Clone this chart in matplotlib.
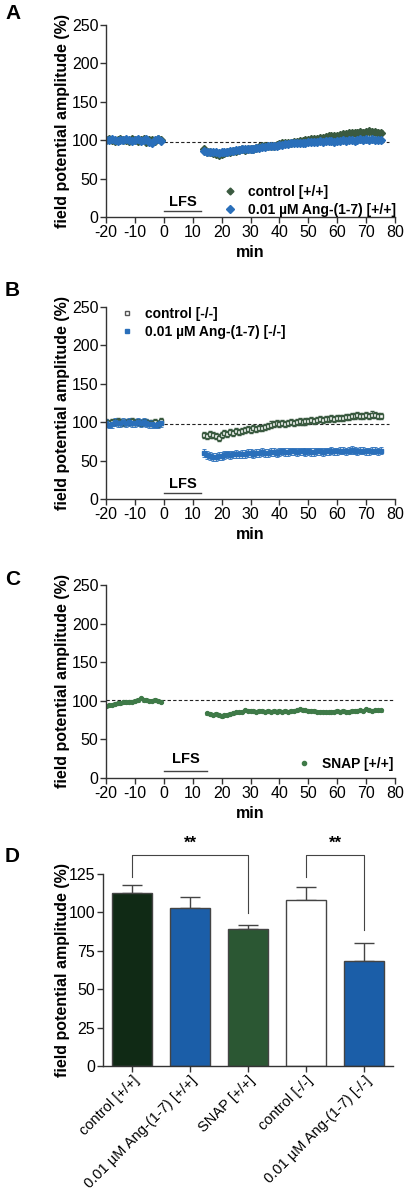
import numpy as np
import matplotlib
matplotlib.use("Agg")
import matplotlib.pyplot as plt
from matplotlib.lines import Line2D

plt.rcParams['font.family'] = ['Liberation Sans', 'DejaVu Sans']
plt.rcParams['axes.unicode_minus'] = False

# time axis (min): baseline and after LFS
t_base = list(range(-20, 0))
t_post = list(range(14, 76))
t_post_c = list(range(15, 76))

# panel A
a_ctrl_base = [100, 101, 100, 99, 100, 101, 100, 100, 99, 101, 100, 99, 100, 101, 98, 100, 100, 99, 101, 100]
a_ang_base = [100, 100, 101, 100, 99, 100, 100, 101, 100, 99, 100, 101, 99, 100, 102, 98, 97, 100, 101, 99]
a_ctrl_post = [88, 85, 84, 83, 82, 81, 82, 83, 84, 85, 86, 86, 87, 88, 87, 88, 88, 89, 90, 91,
               92, 93, 93, 92, 93, 94, 95, 96, 96, 97, 97, 98, 98, 99, 99, 100, 100, 101, 101, 102,
               103, 103, 104, 105, 105, 106, 106, 107, 108, 108, 109, 109, 110, 110, 111, 110, 111, 112, 111, 111,
               110, 110]
a_ang_post = [86, 85, 84, 84, 84, 83, 84, 85, 85, 86, 86, 87, 87, 88, 88, 89, 89, 89, 90, 90,
              91, 91, 92, 92, 93, 93, 94, 94, 95, 95, 96, 96, 96, 97, 97, 97, 98, 98, 98, 98,
              99, 98, 99, 99, 99, 98, 99, 99, 100, 99, 100, 100, 99, 100, 101, 100, 101, 100, 101, 100,
              100, 100]
a_sem = [3, 3]

# panel B
b_ctrl_base = [100, 99, 100, 100, 101, 100, 99, 100, 100, 101, 100, 100, 99, 100, 100, 99, 99, 100, 98, 101]
b_ang_base = [99, 97, 98, 100, 99, 99, 100, 99, 100, 99, 99, 100, 99, 100, 99, 98, 98, 97, 98, 99]
b_ctrl_post = [83, 82, 84, 83, 82, 80, 83, 86, 85, 87, 86, 88, 87, 89, 90, 91, 90, 92, 91, 93,
               92, 94, 95, 97, 98, 99, 98, 99, 98, 99, 100, 99, 100, 101, 100, 101, 102, 103, 102, 103,
               104, 103, 104, 104, 105, 104, 105, 106, 106, 107, 107, 108, 108, 109, 108, 108, 109, 108, 110, 109,
               108, 108]
b_ang_post = [60, 57, 56, 55, 55, 56, 56, 57, 58, 57, 58, 59, 58, 59, 59, 60, 60, 59, 60, 60,
              61, 60, 60, 61, 61, 60, 61, 62, 61, 61, 62, 62, 61, 62, 62, 61, 62, 61, 61, 62,
              62, 61, 62, 62, 63, 62, 62, 63, 63, 62, 63, 64, 63, 62, 63, 63, 62, 62, 63, 63,
              62, 63]
b_sem = [4, 5]

# panel C
c_snap_base = [93, 94, 95, 96, 97, 97, 98, 98, 99, 99, 100, 101, 103, 101, 101, 100, 100, 101, 100, 99]
c_snap_post = [84, 83, 82, 83, 81, 80, 81, 82, 83, 84, 85, 85, 86, 88, 87, 87, 87, 86, 87, 87,
               86, 87, 86, 87, 86, 87, 86, 87, 86, 87, 87, 88, 89, 88, 88, 87, 87, 87, 86, 86,
               86, 85, 85, 86, 86, 87, 86, 87, 86, 86, 87, 87, 87, 88, 87, 89, 88, 87, 88, 88,
               88]
c_sem = 2

# panel D
d_labels = ['control [+/+]', '0.01 µM Ang-(1-7) [+/+]', 'SNAP [+/+]', 'control [-/-]', '0.01 µM Ang-(1-7) [-/-]']
d_means = [112.5, 103, 89.5, 108, 68.5]
d_sem = [5.5, 7, 2.5, 8.5, 11.5]

GREEN = '#3a5a40'
BLUE = '#2a6fba'
SNAPGREEN = '#3f7a48'
SPINE = '#333333'
W, H = 405, 1191


def style_axes(ax):
    for s in ['top', 'right']:
        ax.spines[s].set_visible(False)
    for s in ['left', 'bottom']:
        ax.spines[s].set_color(SPINE)
        ax.spines[s].set_linewidth(1.0)
    ax.tick_params(direction='out', length=4, width=1.0, color=SPINE, labelsize=11.5, pad=1.5)


def time_axes(ax):
    style_axes(ax)
    ax.set_xlim(-20, 80)
    ax.set_ylim(0, 250)
    ax.set_xticks(range(-20, 81, 10))
    ax.set_yticks(range(0, 251, 50))
    ax.set_xlabel('min', fontsize=11.5, fontweight='bold', labelpad=4)
    ax.set_ylabel('field potential amplitude (%)', fontsize=11.5, fontweight='bold')
    ax.yaxis.set_label_coords(-0.125, 0.5)


def series(ax, base, post, tpost, sem, **kw):
    t = t_base + tpost
    y = base + post
    ax.errorbar(t, y, yerr=sem, linestyle='none', elinewidth=0.6, capsize=1.2, capthick=0.6, **kw)


def lfs(ax, x1, y_line, y_text):
    ax.plot([0, x1], [y_line, y_line], color='#444444', lw=1.0)
    ax.text(x1 / 2, y_text, 'LFS', ha='center', va='center', fontsize=10.5, fontweight='bold')


def legend(ax, handles, labels, **kw):
    ax.legend(handles, labels, frameon=False, prop={'weight': 'bold', 'size': 10},
              handlelength=1.2, handletextpad=0.7, labelspacing=0.3, borderpad=0,
              borderaxespad=0, **kw)


fig = plt.figure(figsize=(W / 100, H / 100), dpi=100)


def axes_px(left, top, right, bottom):
    return fig.add_axes([left / W, 1 - bottom / H, (right - left) / W, (bottom - top) / H])


# ---- A
axA = axes_px(106, 25, 395, 217)
time_axes(axA)
axA.plot([0, 78], [98, 98], ls=(0, (3, 2)), color='#222222', lw=0.8)
series(axA, a_ctrl_base, a_ctrl_post, t_post, a_sem[0], fmt='D', ms=3.8, color=GREEN, ecolor=GREEN)
series(axA, a_ang_base, a_ang_post, t_post, a_sem[1], fmt='D', ms=3.8, color=BLUE, ecolor=BLUE)
lfs(axA, 13, 8, 20)
legend(axA, [Line2D([], [], ls='none', marker='D', ms=3.5, color=GREEN),
             Line2D([], [], ls='none', marker='D', ms=4.5, color=BLUE)],
       ['control [+/+]', '0.01 µM Ang-(1-7) [+/+]'],
       loc='lower left', bbox_to_anchor=(0.40, 0.0))

# ---- B
axB = axes_px(106, 307, 395, 499)
time_axes(axB)
axB.plot([0, 78], [98, 98], ls=(0, (3, 2)), color='#222222', lw=0.8)
series(axB, b_ctrl_base, b_ctrl_post, t_post, b_sem[0], fmt='s', ms=3.5, mfc='white', mec=GREEN,
       mew=1.0, color=GREEN, ecolor=GREEN)
series(axB, b_ang_base, b_ang_post, t_post, b_sem[1], fmt='s', ms=3.0, color=BLUE, ecolor=BLUE)
lfs(axB, 13, 8, 19)
legend(axB, [Line2D([], [], ls='none', marker='s', ms=3.5, mfc='white', mec='#555555', mew=1.0),
             Line2D([], [], ls='none', marker='s', ms=3.5, color=BLUE)],
       ['control [-/-]', '0.01 µM Ang-(1-7) [-/-]'],
       loc='upper left', bbox_to_anchor=(0.045, 1.0))

# ---- C
axC = axes_px(106, 585, 395, 778)
time_axes(axC)
axC.plot([-20, 80], [101, 101], ls=(0, (3, 2)), color='#222222', lw=0.8)
series(axC, c_snap_base, c_snap_post, t_post_c, c_sem, fmt='o', ms=2.8, color=SNAPGREEN,
       ecolor=SNAPGREEN)
lfs(axC, 15, 9.5, 25)
legend(axC, [Line2D([], [], ls='none', marker='o', ms=3, color=SNAPGREEN)], ['SNAP [+/+]'],
       loc='lower left', bbox_to_anchor=(0.655, 0.035))

# ---- D
axD = axes_px(103, 874, 393, 1066)
style_axes(axD)
xpos = np.arange(len(d_means))
bar_colors = ['#102a15', '#1b5ea8', '#2b5733', '#ffffff', '#1b5ea8']
axD.bar(xpos, d_means, width=0.68, color=bar_colors, edgecolor='#444444', linewidth=1.0, zorder=2)
axD.errorbar(xpos, d_means, yerr=[np.zeros(len(d_sem)), d_sem], fmt='none', ecolor='#444444',
             elinewidth=1.0, capsize=7, capthick=1.0, zorder=1)
axD.set_xlim(-0.5, 4.5)
axD.set_ylim(0, 125)
axD.set_yticks(range(0, 126, 25))
axD.set_xticks(xpos)
axD.set_xticklabels(d_labels, rotation=45, ha='right', rotation_mode='anchor', fontsize=10.5)
axD.set_ylabel('field potential amplitude (%)', fontsize=11.5, fontweight='bold')
axD.yaxis.set_label_coords(-0.115, 0.5)

# significance brackets
for (i, j, yi, yj) in [(0, 2, 123, 99.5), (3, 4, 123, 88.5)]:
    axD.plot([i, i, j, j], [yi, 137.5, 137.5, yj], color='#444444', lw=0.8, clip_on=False)
    axD.text((i + j) / 2, 140, '**', ha='center', va='bottom', fontsize=12, fontweight='bold',
             clip_on=False)

# panel letters
for letter, ypx in [('A', 4), ('B', 281), ('C', 570), ('D', 847)]:
    fig.text(5 / W, 1 - ypx / H, letter, fontsize=15, fontweight='bold', va='top', ha='left')

fig.savefig('out.png', dpi=100)
